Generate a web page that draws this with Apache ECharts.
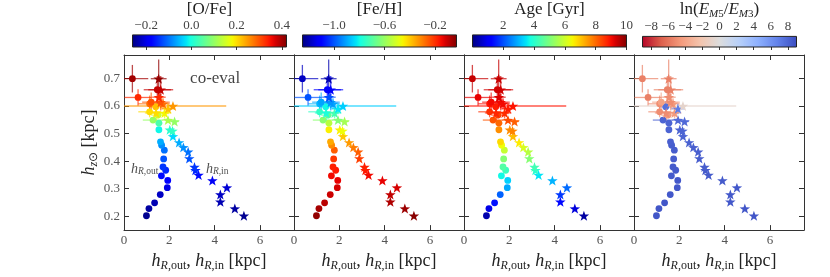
<!DOCTYPE html>
<html><head><meta charset="utf-8">
<script src="https://cdn.jsdelivr.net/npm/echarts@6/dist/echarts.min.js"></script>
<style>html,body{margin:0;padding:0;background:#fff}#c{width:830px;height:277px}</style>
</head><body><div id="c"></div>
<script>
// ---------- data ----------
// h_R,out (circles)
const out_x    = [0.99,1.10,1.35,1.60,1.91,1.93,1.65,1.84,1.72,1.75,1.78,1.66,1.61,1.54,1.54,1.28,1.50,1.13,1.40,1.13,1.20,0.62,1.47,0.37];
const out_y    = [0.202,0.228,0.249,0.279,0.304,0.330,0.347,0.367,0.379,0.408,0.440,0.458,0.470,0.514,0.538,0.549,0.567,0.579,0.597,0.608,0.614,0.631,0.659,0.699];
const out_xerr = [0,0,0,0,0,0,0,0,0,0,0,0,0,0.05,0.15,0.45,0.30,0.50,0.30,0.50,0.40,0.60,0.60,0.70];
const out_yerr = [0,0,0,0,0,0,0,0,0,0,0,0,0,0.005,0.01,0.01,0.012,0.02,0.02,0.03,0.035,0.03,0.05,0.05];
const out_ofe  = [-0.25,-0.24,-0.23,-0.22,-0.20,-0.18,-0.17,-0.15,-0.14,-0.12,-0.10,-0.08,-0.06,-0.01,0.04,0.10,0.15,0.20,0.22,0.28,0.30,0.33,0.38,0.40];
const out_feh  = [-0.05,-0.07,-0.09,-0.11,-0.12,-0.14,-0.15,-0.17,-0.18,-0.21,-0.26,-0.32,-0.36,-0.45,-0.55,-0.62,-0.68,-0.75,-0.80,-0.88,-0.90,-1.00,-1.10,-1.18];
const out_age  = [0.4,0.9,1.4,2.2,2.9,3.3,3.7,4.2,4.5,5.1,5.9,6.4,6.8,7.6,8.0,8.2,8.4,8.6,8.8,8.9,9.0,9.1,9.3,9.4];
const out_lnE  = [8.6,8.6,8.6,8.5,8.5,8.5,8.4,8.4,8.4,8.3,8.3,8.3,8.2,8.0,8.0,8.0,-4.5,-5.0,7.5,-5.0,-4.0,-5.5,-5.5,-5.5];
// h_R,in (stars)
const in_x    = [5.29,4.89,4.25,4.25,4.54,3.90,3.29,3.15,3.11,2.88,2.83,2.62,2.43,2.16,2.02,2.14,2.23,1.94,1.79,1.42,1.94,2.16,1.72,1.62,1.54,1.62,1.53];
const in_y    = [0.202,0.228,0.253,0.279,0.304,0.330,0.350,0.367,0.379,0.410,0.434,0.450,0.468,0.490,0.514,0.510,0.544,0.549,0.575,0.575,0.590,0.600,0.608,0.614,0.632,0.659,0.699];
const in_xerr = [0,0,0,0,0,0,0,0,0,0,0,0,0,0,0.05,0.05,0.20,0.25,0.30,0.50,0.30,2.35,0.30,0.40,0.30,0.55,0.35];
const in_yerr = [0,0,0,0,0,0,0,0,0,0,0,0,0,0,0.005,0.005,0.01,0.01,0.02,0.03,0.02,0.005,0.02,0.03,0.03,0.05,0.07];
const in_ofe  = [-0.25,-0.24,-0.23,-0.22,-0.21,-0.19,-0.17,-0.15,-0.14,-0.12,-0.10,-0.08,-0.06,-0.03,0.01,0.02,0.10,0.12,0.18,0.20,0.22,0.25,0.28,0.30,0.33,0.38,0.41];
const in_feh  = [-0.04,-0.06,-0.08,-0.10,-0.12,-0.14,-0.15,-0.17,-0.18,-0.22,-0.26,-0.30,-0.34,-0.40,-0.45,-0.47,-0.58,-0.63,-0.72,-0.78,-0.82,-0.85,-0.90,-0.92,-1.00,-1.12,-1.20];
const in_age  = [0.3,0.8,1.3,1.8,2.3,3.0,3.5,4.0,4.3,5.1,5.7,6.1,6.6,7.1,7.6,7.7,8.1,8.3,8.6,8.7,8.8,8.9,9.0,9.0,9.2,9.3,9.4];
const in_lnE  = [8.6,8.6,8.5,8.5,8.5,8.4,8.4,8.4,8.3,8.3,8.2,8.2,8.1,8.0,8.0,8.0,7.8,7.8,-4.5,-5.0,7.0,-0.8,-4.5,-5.0,-5.0,-5.5,-5.5];

// axis ticks
const x_ticks = [0,2,4,6];
const y_ticks = [0.2,0.3,0.4,0.5,0.6,0.7];
const cb_ticks_ofe = [-0.2,0.0,0.2,0.4];
const cb_ticks_feh = [-1.0,-0.6,-0.2];
const cb_ticks_age = [2,4,6,8,10];
const cb_ticks_lnE = [-8,-6,-4,-2,0,2,4,6,8];
const cb_range_ofe = [-0.26,0.42];
const cb_range_feh = [-1.25,-0.03];
const cb_range_age = [0,10];
const cb_range_lnE = [-9,9];

// annotations (data coords, panel 1)
const notes = [[4.02,0.700,'coeval'],[0.91,0.372,'out'],[4.11,0.372,'in']];

// ---------- colormaps ----------
function seg(pts,t){for(let i=1;i<pts.length;i++){if(t<=pts[i][0]){const a=pts[i-1],b=pts[i];return a[1]+(b[1]-a[1])*(t-a[0])/(b[0]-a[0]);}}return pts[pts.length-1][1];}
function toHex(r,g,b){return 'rgb('+Math.round(r*255)+','+Math.round(g*255)+','+Math.round(b*255)+')';}
function jet(t){t=Math.max(0,Math.min(1,t));
  return toHex(seg([[0,0],[0.35,0],[0.66,1],[0.89,1],[1,0.5]],t),
               seg([[0,0],[0.125,0],[0.375,1],[0.64,1],[0.91,0],[1,0]],t),
               seg([[0,0.5],[0.11,1],[0.34,1],[0.65,0],[1,0]],t));}
const cw = [[0.230,0.299,0.754],[0.384,0.510,0.918],[0.553,0.690,0.996],[0.722,0.816,0.976],[0.865,0.865,0.865],[0.957,0.769,0.678],[0.957,0.604,0.482],[0.867,0.380,0.302],[0.706,0.016,0.150]];
function coolwarm_r(t){t=1-Math.max(0,Math.min(1,t));const f=t*8,i=Math.min(7,Math.floor(f)),u=f-i;
  const a=cw[i],b=cw[i+1];return toHex(a[0]+(b[0]-a[0])*u,a[1]+(b[1]-a[1])*u,a[2]+(b[2]-a[2])*u);}

const FONT='Liberation Serif';
const rich = {
  n:{fontFamily:FONT,fontSize:18,color:'#222',lineHeight:22},
  i:{fontFamily:FONT,fontSize:18,fontStyle:'italic',color:'#222',lineHeight:22},
  si:{fontFamily:FONT,fontSize:12,fontStyle:'italic',color:'#222',lineHeight:10,verticalAlign:'bottom'},
  s:{fontFamily:FONT,fontSize:12,color:'#222',lineHeight:10,verticalAlign:'bottom'}
};
const richC = {
  n:{fontFamily:FONT,fontSize:17,color:'#222',lineHeight:20},
  i:{fontFamily:FONT,fontSize:17,fontStyle:'italic',color:'#222',lineHeight:20},
  si:{fontFamily:FONT,fontSize:11,fontStyle:'italic',color:'#222',lineHeight:9,verticalAlign:'bottom'},
  s:{fontFamily:FONT,fontSize:11,color:'#222',lineHeight:9,verticalAlign:'bottom'}
};
const richA = {
  n:{fontFamily:FONT,fontSize:17,color:'#111'},
  i:{fontFamily:FONT,fontSize:14,fontStyle:'italic',color:'#222',lineHeight:16},
  si:{fontFamily:FONT,fontSize:9.5,fontStyle:'italic',color:'#222',lineHeight:7,verticalAlign:'bottom'},
  s:{fontFamily:FONT,fontSize:9.5,color:'#222',lineHeight:7,verticalAlign:'bottom'}
};

const panels = [
  {oc:out_ofe, ic:in_ofe, range:cb_range_ofe, ticks:cb_ticks_ofe, cmap:jet, dec:1, title:'{n|[O/Fe]}'},
  {oc:out_feh, ic:in_feh, range:cb_range_feh, ticks:cb_ticks_feh, cmap:jet, dec:1, title:'{n|[Fe/H]}'},
  {oc:out_age, ic:in_age, range:cb_range_age, ticks:cb_ticks_age, cmap:jet, dec:0, title:'{n|Age [Gyr]}'},
  {oc:out_lnE, ic:in_lnE, range:cb_range_lnE, ticks:cb_ticks_lnE, cmap:coolwarm_r, dec:0, title:'{n|ln(}{i|E}{si|M}{s|5}{n|/}{i|E}{si|M}{s|3}{n|)}'}
];
const fmt=(v,d)=>{let s=Number(v).toFixed(d);return s.replace('-','\u2212');};
const STAR='path://M0,-10 L2.35,-3.24 L9.51,-3.09 L3.8,1.24 L5.88,8.09 L0,4 L-5.88,8.09 L-3.8,1.24 L-9.51,-3.09 L-2.35,-3.24 Z';
const AX='#333';

const grid=[], xAxis=[], yAxis=[], series=[];
const xTop=[],yRight=[],xCb=[],yCb=[];
panels.forEach((P,p)=>{
  grid.push({left:124+170*p, top:55, width:170, height:180});
});
panels.forEach((P,p)=>{
  grid.push({left:132.5+170*p, top:32, width:154, height:15});
});
panels.forEach((P,p)=>{
  xAxis.push({gridIndex:p,type:'value',min:0,max:7.5,position:'bottom',
    axisLine:{show:true,onZero:false,lineStyle:{color:AX,width:1}},
    axisTick:{show:true,inside:true,length:5,customValues:x_ticks,lineStyle:{color:AX}},
    axisLabel:{customValues:x_ticks,margin:4,fontFamily:FONT,fontSize:13,color:'#555',formatter:v=>fmt(v,0)},
    splitLine:{show:false},
    name:'{i|h}{si|R}{s|,out}{n|, }{i|h}{si|R}{s|,in}{n| [kpc]}',nameLocation:'middle',nameGap:14,
    nameTextStyle:{rich:rich}});
  xTop.push({gridIndex:p,type:'value',min:0,max:7.5,position:'top',
    axisLine:{show:true,onZero:false,lineStyle:{color:AX,width:1}},
    axisTick:{show:true,inside:true,length:5,customValues:x_ticks,lineStyle:{color:AX}},
    axisLabel:{show:false},splitLine:{show:false}});
  yAxis.push({gridIndex:p,type:'value',min:0.15,max:0.785,position:'left',
    axisLine:{show:true,onZero:false,lineStyle:{color:AX,width:1}},
    axisTick:{show:true,inside:true,length:5,customValues:y_ticks,lineStyle:{color:AX}},
    axisLabel:{show:p===0,customValues:y_ticks,margin:4,fontFamily:FONT,fontSize:13,color:'#555',formatter:v=>fmt(v,1)},
    splitLine:{show:false},
    name:p===0?'{i|h}{si|z}{s|⊙}{n| [kpc]}':'',nameLocation:'middle',nameGap:20,
    nameTextStyle:{rich:rich}});
  yRight.push({gridIndex:p,type:'value',min:0.15,max:0.785,position:'right',
    axisLine:{show:true,onZero:false,lineStyle:{color:AX,width:1}},
    axisTick:{show:true,inside:true,length:5,customValues:y_ticks,lineStyle:{color:AX}},
    axisLabel:{show:false},splitLine:{show:false}});
  xCb.push({gridIndex:4+p,type:'value',min:P.range[0],max:P.range[1],position:'top',
    axisLine:{show:false},
    axisTick:{show:true,inside:true,length:3,customValues:P.ticks,lineStyle:{color:AX}},
    axisLabel:{customValues:P.ticks,margin:3,fontFamily:FONT,fontSize:13,color:'#444',formatter:v=>fmt(v,P.dec)},
    splitLine:{show:false},
    name:P.title,nameLocation:'middle',nameGap:12,nameTextStyle:{rich:richC}});
  yCb.push({gridIndex:4+p,type:'value',min:0,max:1,show:false});
});
xAxis.push(...xTop, ...xCb);
yAxis.push(...yRight, ...yCb);

panels.forEach((P,p)=>{
  const norm=v=>(v-P.range[0])/(P.range[1]-P.range[0]);
  const colorOf=v=>P.cmap(norm(v));
  [[out_x,out_y,out_xerr,out_yerr,P.oc],[in_x,in_y,in_xerr,in_yerr,P.ic]].forEach(([X,Y,XE,YE,C])=>{
    const rows=X.map((x,i)=>[x,Y[i],XE[i],YE[i],C[i]]);
    series.push({type:'custom',xAxisIndex:p,yAxisIndex:p,clip:true,silent:true,z:2,
      data:rows,encode:{x:0,y:1},
      renderItem:(params,api)=>{
        const x=api.value(0),y=api.value(1),xe=api.value(2),ye=api.value(3),c=api.value(4);
        if(!xe&&!ye) return null;
        const col=colorOf(c);const ch=[];
        if(xe){const a=api.coord([x-xe,y]),b=api.coord([x+xe,y]);ch.push({type:'line',shape:{x1:a[0],y1:a[1],x2:b[0],y2:b[1]},style:{stroke:col,lineWidth:1.3,opacity:0.7}});}
        if(ye){const a=api.coord([x,y-ye]),b=api.coord([x,y+ye]);ch.push({type:'line',shape:{x1:a[0],y1:a[1],x2:b[0],y2:b[1]},style:{stroke:col,lineWidth:1.3,opacity:0.7}});}
        return {type:'group',children:ch};
      }});
  });
  [[out_x,out_y,P.oc,'circle',6.8],[in_x,in_y,P.ic,STAR,10.5]].forEach(([X,Y,C,sym,size])=>{
    series.push({type:'scatter',xAxisIndex:p,yAxisIndex:p,symbol:sym,symbolSize:size,symbolKeepAspect:true,z:3,silent:true,
      data:X.map((x,i)=>[x,Y[i],C[i]]),
      itemStyle:{opacity:1,color:pp=>colorOf(pp.value[2])}});
  });
  // colorbar
  const stops=[];for(let k=0;k<=40;k++){stops.push({offset:k/40,color:P.cmap(k/40)});}
  series.push({type:'custom',xAxisIndex:8+p,yAxisIndex:8+p,silent:true,z:1,
    data:[[P.range[0],0,P.range[1],1]],
    renderItem:(params,api)=>{
      const a=api.coord([api.value(0),api.value(3)]),b=api.coord([api.value(2),api.value(1)]);
      return {type:'rect',shape:{x:a[0],y:a[1],width:b[0]-a[0],height:b[1]-a[1]},
        style:{fill:new echarts.graphic.LinearGradient(0,0,1,0,stops),stroke:'#222',lineWidth:1}};
    }});
});

const noteText={coeval:'{n|co-eval}',out:'{i|h}{si|R}{s|,out}',in:'{i|h}{si|R}{s|,in}'};
series.push({type:'scatter',xAxisIndex:0,yAxisIndex:0,symbolSize:0,silent:true,z:5,
  data:notes.map(n=>({value:[n[0],n[1]],label:{show:true,position:'inside',color:'#111',formatter:noteText[n[2]],rich:richA}}))});

const chart=echarts.init(document.getElementById('c'));
chart.setOption({animation:false,backgroundColor:'#fff',grid,xAxis,yAxis,series});
</script></body></html>
